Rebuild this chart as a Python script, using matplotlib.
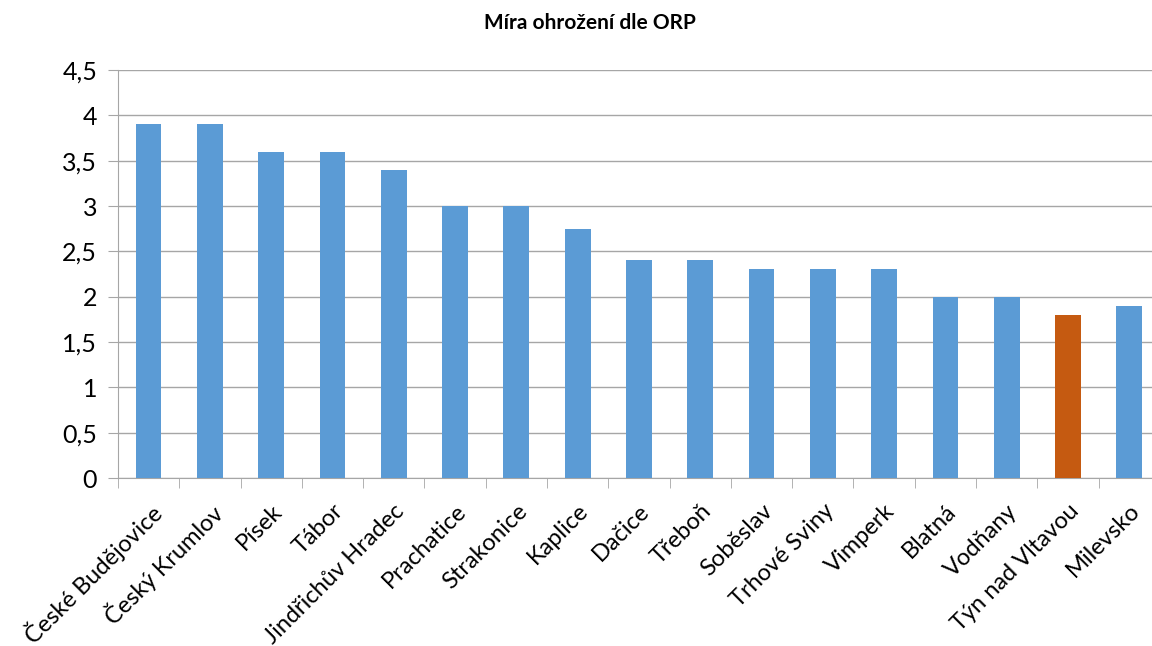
import matplotlib
matplotlib.use("Agg")
import matplotlib.pyplot as plt
from matplotlib.ticker import FuncFormatter

plt.rcParams['font.family'] = ['Lato', 'DejaVu Sans']

# Data
orp = ["České Budějovice", "Český Krumlov", "Písek", "Tábor", "Jindřichův Hradec",
       "Prachatice", "Strakonice", "Kaplice", "Dačice", "Třeboň", "Soběslav",
       "Trhové Sviny", "Vimperk", "Blatná", "Vodňany", "Týn nad Vltavou", "Milevsko"]
mira = [3.9, 3.9, 3.6, 3.6, 3.4, 3.0, 3.0, 2.75, 2.4, 2.4, 2.3, 2.3, 2.3, 2.0, 2.0, 1.8, 1.9]
highlight = "Týn nad Vltavou"

blue = "#5B9BD5"
orange = "#C55A11"
colors = [orange if o == highlight else blue for o in orp]

fig = plt.figure(figsize=(11.52, 6.46), dpi=100)
ax = fig.add_axes([0.1024, 0.26, 0.9045, 0.6316])

x = range(len(orp))
ax.bar(x, mira, width=0.42, color=colors, zorder=3)

ax.set_ylim(0, 4.5)
ax.set_yticks([i * 0.5 for i in range(10)])
ax.yaxis.set_major_formatter(FuncFormatter(lambda v, p: f"{v:g}".replace(".", ",")))
ax.set_xlim(-0.5, len(orp) - 0.5)
ax.set_xticks(list(x))
ax.set_xticklabels(orp, rotation=45, ha="right", rotation_mode="anchor", fontsize=17)
ax.tick_params(axis="x", length=0, pad=16)
ax.set_xticks([i - 0.5 for i in range(len(orp) + 1)], minor=True)
ax.tick_params(axis="x", which="minor", length=7, color="#A6A6A6")
ax.tick_params(axis="y", labelsize=18, length=7, color="#A6A6A6", pad=8)

ax.grid(axis="y", color="#A6A6A6", linewidth=1, zorder=0)
for s in ["top", "right"]:
    ax.spines[s].set_visible(False)
ax.spines["left"].set_color("#A6A6A6")
ax.spines["bottom"].set_color("#A6A6A6")

fig.text(0.512, 0.964, "Míra ohrožení dle ORP", ha="center", va="center",
         fontsize=15, fontweight="bold")

fig.savefig("out.png", dpi=100)
